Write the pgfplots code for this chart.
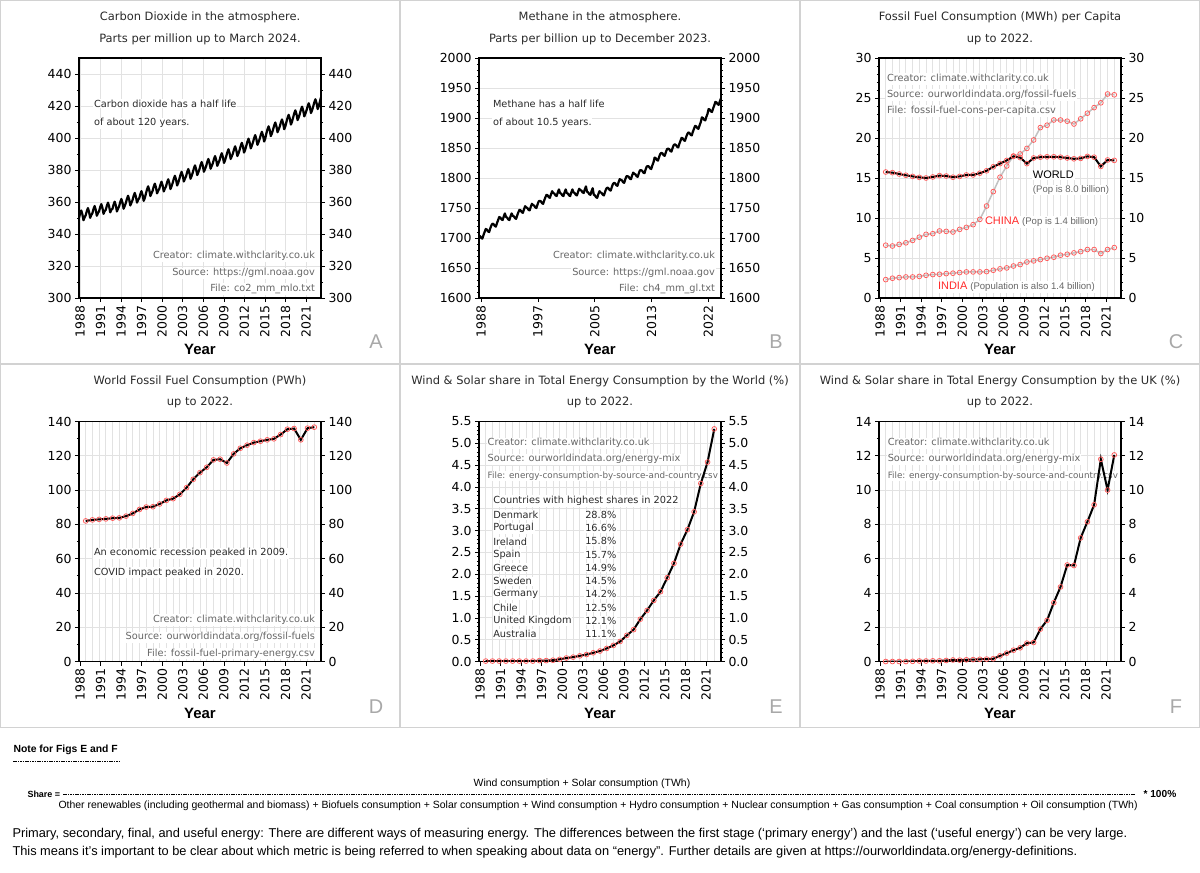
\documentclass[border=0pt]{standalone}
\usepackage{fontspec}
\setmainfont{DejaVu Sans}
\newfontfamily\arial{Liberation Sans}
\usepackage{pgfplots}
\pgfplotsset{compat=1.18}
\usepackage{pgfplotstable}

\definecolor{gridc}{HTML}{E2E2E2}
\definecolor{txtg}{HTML}{666666}
\definecolor{txtd}{HTML}{2A2A2A}
\definecolor{mred}{HTML}{FF5A5A}
\definecolor{lgray}{HTML}{C2C2C2}
\definecolor{frameg}{HTML}{D2D2D2}
\definecolor{letg}{HTML}{A8A8A8}
\definecolor{cred}{HTML}{FF2A2A}

\newcommand{\tfont}{\fontsize{11.5}{13}\selectfont}
\newcommand{\nfont}{\fontsize{9.8}{12}\selectfont}
\newcommand{\sfont}{\fontsize{8.8}{10}\selectfont}
\newcommand{\kfont}{\fontsize{12.5}{14}\selectfont}

\pgfplotstableread{
year world china india fossil wsw wsuk
1988 15.75 6.60 2.30 82.0 0.01 0.00
1989 15.67 6.50 2.47 82.6 0.01 0.00
1990 15.50 6.70 2.55 82.9 0.01 0.00
1991 15.34 6.90 2.63 83.2 0.01 0.00
1992 15.20 7.20 2.63 83.6 0.01 0.01
1993 15.08 7.60 2.70 83.8 0.01 0.03
1994 15.00 7.96 2.84 84.8 0.01 0.03
1995 15.13 8.04 2.93 86.4 0.01 0.04
1996 15.30 8.38 2.97 88.7 0.02 0.04
1997 15.25 8.33 3.05 90.1 0.02 0.06
1998 15.10 8.25 3.10 90.3 0.03 0.09
1999 15.20 8.58 3.18 91.9 0.05 0.08
2000 15.38 8.83 3.26 94.0 0.08 0.10
2001 15.38 9.17 3.26 95.0 0.10 0.11
2002 15.60 9.83 3.26 97.5 0.13 0.13
2003 15.90 11.50 3.30 101.4 0.16 0.14
2004 16.40 13.30 3.47 106.3 0.20 0.16
2005 16.80 15.10 3.64 110.2 0.24 0.33
2006 17.20 16.50 3.76 113.3 0.30 0.49
2007 17.70 17.75 4.00 117.6 0.37 0.66
2008 17.55 18.00 4.18 118.0 0.46 0.80
2009 16.80 18.70 4.50 115.8 0.60 1.07
2010 17.50 19.75 4.64 121.1 0.73 1.11
2011 17.60 21.30 4.80 124.4 0.97 1.89
2012 17.65 21.60 4.97 126.2 1.17 2.40
2013 17.65 22.25 5.10 127.7 1.40 3.43
2014 17.60 22.25 5.35 128.5 1.60 4.35
2015 17.50 22.10 5.47 129.3 1.92 5.63
2016 17.40 21.75 5.64 129.9 2.25 5.60
2017 17.45 22.40 5.80 132.4 2.69 7.21
2018 17.70 23.10 6.06 135.5 3.02 8.15
2019 17.60 23.80 6.06 135.9 3.43 9.14
2020 16.45 24.40 5.56 129.3 4.08 11.80
2021 17.25 25.50 6.06 136.1 4.57 10.00
2022 17.20 25.40 6.30 136.7 5.33 12.05
}\annual

\tikzset{
 intext/.style={fill=white, inner sep=0.8bp, font=\nfont, text=txtg},
 notetext/.style={fill=white, inner sep=0.8bp, font=\nfont, text=txtd, anchor=west},
}

\pgfplotsset{
 panel/.style={scale only axis, width=242bp, height=240bp, anchor=north west,
   axis line style={line width=1.4bp},
   tick align=outside, major tick length=4bp, minor tick length=2.2bp,
   every tick/.style={black, line width=0.7bp},
   ytick pos=both, xtick pos=left, yticklabel pos=left,
   tick label style={font=\kfont},
   xticklabel style={rotate=90, anchor=east},
   /pgf/number format/assume math mode=true,
   /pgf/number format/1000 sep={},
   grid style={gridc, line width=0.8bp},
 },
 yearaxis/.style={xmin=1987, xmax=2023,
   xtick={1987.15,1990.21,1993.26,1996.32,1999.38,2002.44,2005.49,2008.55,2011.61,2014.66,2017.72,2020.78},
   xticklabels={1988,1991,1994,1997,2000,2003,2006,2009,2012,2015,2018,2021},
   minor xtick={1988,1989,...,2022}, xminorgrids, minor x tick style={draw=none}, ymajorgrids},
 rpanel/.style={scale only axis, width=242bp, height=240bp, anchor=north west,
   hide x axis, axis y line*=right, y axis line style={draw=none},
   major tick length=4bp, tick align=outside, ytick style={draw=none},
   tick label style={font=\kfont},
   /pgf/number format/assume math mode=true,
   /pgf/number format/1000 sep={},
   xmin=0, xmax=1},
 marks/.style={mark=o, mark size=2.4bp, mark options={draw=mred, line width=0.75bp, solid}},
}

\begin{document}
\begin{tikzpicture}
\fill[white] (0,0) rectangle (1200bp,-873bp);
\path[use as bounding box] (0,0) rectangle (1200bp,-873bp);
% panel frames
\draw[frameg, line width=0.8bp] (0.5bp,-0.5bp) rectangle (399.5bp,-363bp);
\draw[frameg, line width=0.8bp] (400.5bp,-0.5bp) rectangle (799.5bp,-363bp);
\draw[frameg, line width=0.8bp] (800.5bp,-0.5bp) rectangle (1199.5bp,-363bp);
\draw[frameg, line width=0.8bp] (0.5bp,-364bp) rectangle (399.5bp,-727bp);
\draw[frameg, line width=0.8bp] (400.5bp,-364bp) rectangle (799.5bp,-727bp);
\draw[frameg, line width=0.8bp] (800.5bp,-364bp) rectangle (1199.5bp,-727bp);

% ---------------- A: CO2 ----------------
\begin{axis}[panel, at={(79bp,-58bp)}, xmin=0, xmax=217, ymin=300, ymax=450,
  ytick={300,320,...,440}, minor y tick num=1,
  xtick={0.9,19.3,37.8,56.2,74.6,93.0,111.5,129.9,148.3,166.7,185.2,203.6},
  xticklabels={1988,1991,1994,1997,2000,2003,2006,2009,2012,2015,2018,2021},
  xmajorgrids, ymajorgrids]
\node[notetext] at (rel axis cs:0.058,0.810) {Carbon dioxide has a half life};
\node[notetext] at (rel axis cs:0.058,0.728) {of about 120 years.};
\node[intext, anchor=east] at (rel axis cs:0.979,0.174) {Creator: climate.withclarity.co.uk};
\node[intext, anchor=east] at (rel axis cs:0.979,0.104) {Source: https://gml.noaa.gov};
\node[intext, anchor=east] at (rel axis cs:0.979,0.0375) {File: co2\_mm\_mlo.txt};
\addplot[black, line width=2.2bp, line join=round] table[x expr=\coordindex, y=v, row sep=\\]{v\\
350.2\\352.8\\354.7\\352.4\\348.6\\350.3\\
351.7\\354.3\\356.2\\353.9\\350.1\\351.8\\
353.0\\355.6\\357.5\\355.2\\351.4\\353.1\\
354.2\\356.8\\358.7\\356.4\\352.6\\354.3\\
355.1\\357.7\\359.6\\357.3\\353.5\\355.2\\
355.7\\358.3\\360.2\\357.9\\354.1\\355.8\\
357.4\\360.0\\361.9\\359.6\\355.8\\357.5\\
359.4\\362.0\\363.9\\361.6\\357.8\\359.5\\
361.2\\363.8\\365.7\\363.4\\359.6\\361.3\\
362.3\\364.9\\366.8\\364.5\\360.7\\362.4\\
365.3\\367.9\\369.8\\367.5\\363.7\\365.4\\
367.0\\369.6\\371.5\\369.2\\365.4\\367.1\\
368.2\\370.8\\372.7\\370.4\\366.6\\368.3\\
369.7\\372.3\\374.2\\371.9\\368.1\\369.8\\
371.9\\374.5\\376.4\\374.1\\370.3\\372.0\\
374.4\\377.0\\378.9\\376.6\\372.8\\374.5\\
376.1\\378.7\\380.6\\378.3\\374.5\\376.2\\
378.4\\381.0\\382.9\\380.6\\376.8\\378.5\\
380.5\\383.1\\385.0\\382.7\\378.9\\380.6\\
382.4\\385.0\\386.9\\384.6\\380.8\\382.5\\
384.2\\386.8\\388.7\\386.4\\382.6\\384.3\\
386.0\\388.6\\390.5\\388.2\\384.4\\386.1\\
388.5\\391.1\\393.0\\390.7\\386.9\\388.6\\
390.3\\392.9\\394.8\\392.5\\388.7\\390.4\\
392.5\\395.1\\397.0\\394.7\\390.9\\392.6\\
395.1\\397.7\\399.6\\397.3\\393.5\\395.2\\
397.3\\399.9\\401.8\\399.5\\395.7\\397.4\\
399.4\\402.0\\403.9\\401.6\\397.8\\399.5\\
402.8\\405.4\\407.3\\405.0\\401.2\\402.9\\
405.2\\407.8\\409.7\\407.4\\403.6\\405.3\\
407.1\\409.7\\411.6\\409.3\\405.5\\407.2\\
410.0\\412.6\\414.5\\412.2\\408.4\\410.1\\
412.8\\415.4\\417.3\\415.0\\411.2\\412.9\\
415.1\\417.7\\419.6\\417.3\\413.5\\415.2\\
417.2\\419.8\\421.7\\419.4\\415.6\\417.3\\
419.7\\422.3\\424.2\\421.9\\418.1\\419.8\\
422.8\\425.4\\
};
\end{axis}
\begin{axis}[rpanel, at={(79bp,-58bp)}, ymin=300, ymax=450, ytick={300,320,...,440}]
\addplot[draw=none] coordinates {(0,300)};
\end{axis}

% ---------------- B: CH4 ----------------
\begin{axis}[panel, at={(479bp,-58bp)}, xmin=0, xmax=215, ymin=1600, ymax=2000,
  ytick={1600,1650,...,2000}, minor y tick num=4,
  xtick={1.8,52.3,102.8,153.3,203.8},
  xticklabels={1988,1997,2005,2013,2022},
  ymajorgrids]
\node[notetext] at (rel axis cs:0.054,0.810) {Methane has a half life};
\node[notetext] at (rel axis cs:0.054,0.728) {of about 10.5 years.};
\node[intext, anchor=east] at (rel axis cs:0.979,0.174) {Creator: climate.withclarity.co.uk};
\node[intext, anchor=east] at (rel axis cs:0.979,0.104) {Source: https://gml.noaa.gov};
\node[intext, anchor=east] at (rel axis cs:0.979,0.0375) {File: ch4\_mm\_gl.txt};
\addplot[black, line width=2.2bp, line join=round] table[x expr=\coordindex, y=v, row sep=\\]{v\\
1704\\1703\\1700\\1699\\1705\\1710\\
1715\\1714\\1711\\1710\\1716\\1721\\
1724\\1723\\1720\\1719\\1725\\1730\\
1735\\1734\\1731\\1730\\1736\\1741\\
1735\\1734\\1731\\1730\\1736\\1741\\
1737\\1736\\1733\\1732\\1738\\1743\\
1747\\1746\\1743\\1742\\1748\\1753\\
1751\\1750\\1747\\1746\\1752\\1757\\
1755\\1754\\1751\\1750\\1756\\1761\\
1762\\1761\\1758\\1757\\1763\\1768\\
1772\\1771\\1768\\1767\\1773\\1778\\
1775\\1774\\1771\\1770\\1776\\1781\\
1775\\1774\\1771\\1770\\1776\\1781\\
1775\\1774\\1771\\1770\\1776\\1781\\
1776\\1775\\1772\\1771\\1777\\1782\\
1780\\1779\\1776\\1775\\1781\\1786\\
1777\\1776\\1773\\1772\\1778\\1783\\
1772\\1771\\1768\\1767\\1773\\1778\\
1776\\1775\\1772\\1771\\1777\\1782\\
1784\\1783\\1780\\1779\\1785\\1790\\
1792\\1791\\1788\\1787\\1793\\1798\\
1797\\1796\\1793\\1792\\1798\\1803\\
1803\\1802\\1799\\1798\\1804\\1809\\
1807\\1806\\1803\\1802\\1808\\1813\\
1813\\1812\\1809\\1808\\1814\\1819\\
1820\\1819\\1816\\1815\\1821\\1826\\
1834\\1833\\1830\\1829\\1835\\1840\\
1842\\1841\\1838\\1837\\1843\\1848\\
1849\\1848\\1845\\1844\\1850\\1855\\
1856\\1855\\1852\\1851\\1857\\1862\\
1867\\1866\\1863\\1862\\1868\\1873\\
1876\\1875\\1872\\1871\\1877\\1882\\
1887\\1886\\1883\\1882\\1888\\1893\\
1901\\1900\\1897\\1896\\1902\\1907\\
1915\\1914\\1911\\1910\\1916\\1921\\
1927\\1926\\1923\\1922\\1928\\1933\\
};
\end{axis}
\begin{axis}[rpanel, at={(479bp,-58bp)}, ymin=1600, ymax=2000, ytick={1600,1650,...,2000}]
\addplot[draw=none] coordinates {(0,1600)};
\end{axis}

% ---------------- C: per capita ----------------
\begin{axis}[panel, yearaxis, at={(879bp,-58bp)}, ymin=0, ymax=30,
  ytick={0,5,...,30}, minor y tick num=4]
\node[intext, anchor=west] at (rel axis cs:0.029,0.9125) {Creator: climate.withclarity.co.uk};
\node[intext, anchor=west] at (rel axis cs:0.029,0.8458) {Source: ourworldindata.org/fossil-fuels};
\node[intext, anchor=west] at (rel axis cs:0.029,0.7792) {File: fossil-fuel-cons-per-capita.csv};
\node[fill=white, inner sep=0.8bp, anchor=west, font=\arial\fontsize{11}{13}\selectfont] at (rel axis cs:0.632,0.5125) {WORLD};
\node[fill=white, inner sep=0.8bp, anchor=west, text=txtg, font=\arial\fontsize{9.6}{12}\selectfont] at (rel axis cs:0.632,0.450) {(Pop is 8.0 billion)};
\node[fill=white, inner sep=0.8bp, anchor=west, font=\arial\fontsize{11}{13}\selectfont] at (rel axis cs:0.434,0.3167) {\textcolor{cred}{CHINA} {\fontsize{9.6}{12}\selectfont\textcolor{txtg}{(Pop is 1.4 billion)}}};
\node[fill=white, inner sep=0.8bp, anchor=west, font=\arial\fontsize{11}{13}\selectfont] at (rel axis cs:0.240,0.0458) {\textcolor{cred}{INDIA} {\fontsize{9.6}{12}\selectfont\textcolor{txtg}{(Population is also 1.4 billion)}}};
\addplot[lgray, line width=1.5bp, marks] table[x=year, y=china]{\annual};
\addplot[lgray, line width=1.5bp, marks] table[x=year, y=india]{\annual};
\addplot[black, line width=2bp, marks] table[x=year, y=world]{\annual};
\end{axis}
\begin{axis}[rpanel, at={(879bp,-58bp)}, ymin=0, ymax=30, ytick={0,5,...,30}]
\addplot[draw=none] coordinates {(0,0)};
\end{axis}

% ---------------- D: world fossil ----------------
\begin{axis}[panel, yearaxis, at={(79bp,-421.5bp)}, ymin=0, ymax=140,
  ytick={0,20,...,140}, minor y tick num=1]
\node[notetext] at (rel axis cs:0.058,0.451) {An economic recession peaked in 2009.};
\node[notetext] at (rel axis cs:0.058,0.369) {COVID impact peaked in 2020.};
\node[intext, anchor=east] at (rel axis cs:0.979,0.173) {Creator: climate.withclarity.co.uk};
\node[intext, anchor=east] at (rel axis cs:0.979,0.102) {Source: ourworldindata.org/fossil-fuels};
\node[intext, anchor=east] at (rel axis cs:0.979,0.034) {File: fossil-fuel-primary-energy.csv};
\addplot[black, line width=2bp, marks] table[x=year, y=fossil]{\annual};
\end{axis}
\begin{axis}[rpanel, at={(79bp,-421.5bp)}, ymin=0, ymax=140, ytick={0,20,...,140}]
\addplot[draw=none] coordinates {(0,0)};
\end{axis}

% ---------------- E: wind & solar world ----------------
\begin{axis}[panel, yearaxis, at={(479bp,-421.5bp)}, ymin=0, ymax=5.5,
  ytick={0,0.5,1,1.5,2,2.5,3,3.5,4,4.5,5,5.5}, minor y tick num=4,
  yticklabel style={/pgf/number format/.cd, fixed, fixed zerofill, precision=1}]
\node[intext, anchor=west] at (rel axis cs:0.032,0.9092) {Creator: climate.withclarity.co.uk};
\node[intext, anchor=west] at (rel axis cs:0.032,0.8425) {Source: ourworldindata.org/energy-mix};
\node[intext, anchor=west, font=\sfont] at (rel axis cs:0.032,0.7729) {File: energy-consumption-by-source-and-country.csv};
\node[notetext] at (rel axis cs:0.055,0.6688) {Countries with highest shares in 2022};
\node[notetext] at (rel axis cs:0.055,0.6104) {Denmark};
\node[notetext] at (rel axis cs:0.435,0.6104) {28.8\%};
\node[notetext] at (rel axis cs:0.055,0.5554) {Portugal};
\node[notetext] at (rel axis cs:0.435,0.5554) {16.6\%};
\node[notetext] at (rel axis cs:0.055,0.5003) {Ireland};
\node[notetext] at (rel axis cs:0.435,0.5003) {15.8\%};
\node[notetext] at (rel axis cs:0.055,0.4452) {Spain};
\node[notetext] at (rel axis cs:0.435,0.4452) {15.7\%};
\node[notetext] at (rel axis cs:0.055,0.3901) {Greece};
\node[notetext] at (rel axis cs:0.435,0.3901) {14.9\%};
\node[notetext] at (rel axis cs:0.055,0.3351) {Sweden};
\node[notetext] at (rel axis cs:0.435,0.3351) {14.5\%};
\node[notetext] at (rel axis cs:0.055,0.2800) {Germany};
\node[notetext] at (rel axis cs:0.435,0.2800) {14.2\%};
\node[notetext] at (rel axis cs:0.055,0.2249) {Chile};
\node[notetext] at (rel axis cs:0.435,0.2249) {12.5\%};
\node[notetext] at (rel axis cs:0.055,0.1698) {United Kingdom};
\node[notetext] at (rel axis cs:0.435,0.1698) {12.1\%};
\node[notetext] at (rel axis cs:0.055,0.1148) {Australia};
\node[notetext] at (rel axis cs:0.435,0.1148) {11.1\%};
\addplot[black, line width=2bp, marks] table[x=year, y=wsw]{\annual};
\end{axis}
\begin{axis}[rpanel, at={(479bp,-421.5bp)}, ymin=0, ymax=5.5,
  ytick={0,0.5,1,1.5,2,2.5,3,3.5,4,4.5,5,5.5},
  yticklabel style={/pgf/number format/.cd, fixed, fixed zerofill, precision=1}]
\addplot[draw=none] coordinates {(0,0)};
\end{axis}

% ---------------- F: wind & solar UK ----------------
\begin{axis}[panel, yearaxis, at={(879bp,-421.5bp)}, ymin=0, ymax=14,
  ytick={0,2,...,14}, minor y tick num=1]
\node[intext, anchor=west] at (rel axis cs:0.032,0.9092) {Creator: climate.withclarity.co.uk};
\node[intext, anchor=west] at (rel axis cs:0.032,0.8425) {Source: ourworldindata.org/energy-mix};
\node[intext, anchor=west, font=\sfont] at (rel axis cs:0.032,0.7729) {File: energy-consumption-by-source-and-country.csv};
\addplot[black, line width=2bp, marks] table[x=year, y=wsuk]{\annual};
\end{axis}
\begin{axis}[rpanel, at={(879bp,-421.5bp)}, ymin=0, ymax=14, ytick={0,2,...,14}]
\addplot[draw=none] coordinates {(0,0)};
\end{axis}

% ---------------- titles, labels, letters ----------------
\begin{scope}[every node/.style={font=\tfont, text=txtd}]
\node at (200bp,-17.7bp) {Carbon Dioxide in the atmosphere.};
\node at (200bp,-39bp) {Parts per million up to March 2024.};
\node at (600bp,-17.7bp) {Methane in the atmosphere.};
\node at (600bp,-39bp) {Parts per billion up to December 2023.};
\node at (1000bp,-17.7bp) {Fossil Fuel Consumption (MWh) per Capita};
\node at (1000bp,-39bp) {up to 2022.};
\node at (200bp,-381.7bp) {World Fossil Fuel Consumption (PWh)};
\node at (200bp,-402.7bp) {up to 2022.};
\node at (600bp,-381.7bp) {Wind \& Solar share in Total Energy Consumption by the World (\%)};
\node at (600bp,-402.7bp) {up to 2022.};
\node at (1000bp,-381.7bp) {Wind \& Solar share in Total Energy Consumption by the UK (\%)};
\node at (1000bp,-402.7bp) {up to 2022.};
\end{scope}
\foreach \cx in {200,600,1000}{
  \node[font=\arial\bfseries\fontsize{15}{17}\selectfont] at (\cx bp,-349bp) {Year};
  \node[font=\arial\bfseries\fontsize{15}{17}\selectfont] at (\cx bp,-713bp) {Year};
}
\begin{scope}[every node/.style={font=\arial\fontsize{20}{22}\selectfont, text=letg}]
\node at (376bp,-342bp) {A};
\node at (776bp,-342bp) {B};
\node at (1176bp,-342bp) {C};
\node at (376bp,-706.5bp) {D};
\node at (776bp,-706.5bp) {E};
\node at (1176bp,-706.5bp) {F};
\end{scope}

% ---------------- bottom notes ----------------
\node[anchor=west, font=\arial\bfseries\fontsize{10.4}{12}\selectfont] at (10bp,-750bp) {Note for Figs E and F};
\draw[dash pattern=on 1.6bp off 0.8bp, line width=0.7bp] (13bp,-761.5bp) -- (120bp,-761.5bp);
\node[font=\arial\fontsize{10.5}{12}\selectfont] at (582bp,-784bp) {Wind consumption + Solar consumption (TWh)};
\node[anchor=west, font=\arial\bfseries\fontsize{9}{11}\selectfont] at (24bp,-794bp) {Share =};
\draw[dash pattern=on 1.6bp off 0.8bp, line width=0.7bp] (63bp,-794.5bp) -- (1135bp,-794.5bp);
\node[anchor=west, font=\arial\bfseries\fontsize{10.2}{12}\selectfont] at (1140bp,-794bp) {* 100\%};
\node[anchor=west, font=\arial\fontsize{10.5}{12}\selectfont] at (55bp,-806bp) {Other renewables (including geothermal and biomass) + Biofuels consumption + Solar consumption + Wind consumption + Hydro consumption + Nuclear consumption + Gas consumption + Coal consumption + Oil consumption (TWh)};
\node[anchor=west, font=\arial\fontsize{12.85}{15}\selectfont] at (9bp,-834bp) {Primary, secondary, final, and useful energy: There are different ways of measuring energy. The differences between the first stage (‘primary energy’) and the last (‘useful energy’) can be very large.};
\node[anchor=west, font=\arial\fontsize{12.85}{15}\selectfont] at (9bp,-852bp) {This means it’s important to be clear about which metric is being referred to when speaking about data on “energy”. Further details are given at https://ourworldindata.org/energy-definitions.};
\end{tikzpicture}
\end{document}
